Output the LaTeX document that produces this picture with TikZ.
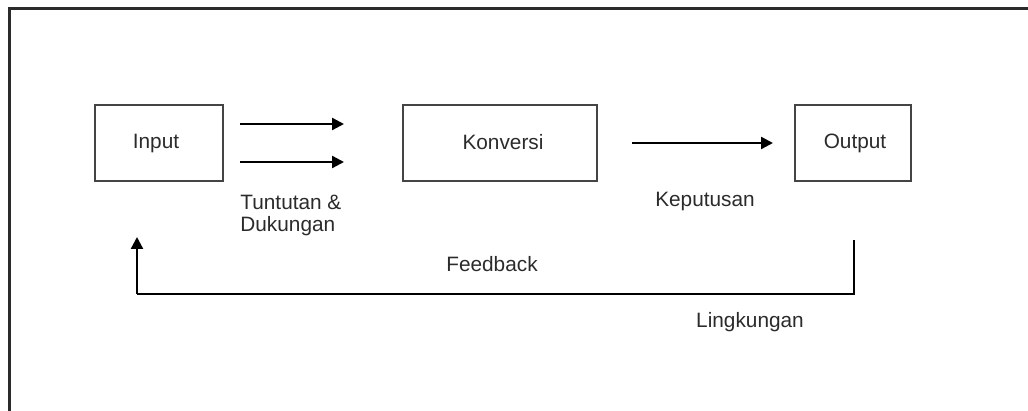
\documentclass[tikz,border=0pt]{standalone}
\usepackage{fontspec}
\setmainfont{Liberation Sans}
\usetikzlibrary{arrows.meta}
\definecolor{ink}{HTML}{2B2B2B}
\definecolor{boxline}{HTML}{444444}
\tikzset{
  blk/.style={draw=boxline, line width=1pt, minimum width=64pt, minimum height=38pt, inner sep=0pt},
  lbl/.style={text=ink, font=\fontsize{10.4pt}{12pt}\selectfont, inner sep=0pt},
  arr/.style={draw=black, line width=1.2pt, -{Triangle[length=6pt,width=6pt]}},
  fb/.style={draw=black, line width=1.2pt}
}
\begin{document}
\begin{tikzpicture}[x=0.5pt,y=-0.5pt]
\useasboundingbox (0,0) rectangle (1028,411);
% outer frame (left and top edges visible)
\draw[draw=ink, line width=1.5pt] (9.5,412) -- (9.5,8.7) -- (1029,8.7);
% boxes
\node[blk, minimum width=64pt, minimum height=38pt] (in) at (159,143) {};
\node[lbl] (intext) at (156,144) {Input};
\node[blk, minimum width=97pt, minimum height=38pt] (kon) at (500,143) {};
\node[lbl] (kontext) at (503,142) {Konversi};
\node[blk, minimum width=58pt, minimum height=38pt] (out) at (853,143) {};
\node[lbl] (outtext) at (855,143) {Output};
% input arrows
\coordinate (a1s) at (240,124);
\coordinate (a1e) at (344,124);
\coordinate (a2s) at (240,162);
\coordinate (a2e) at (344,162);
\draw[arr] (a1s) -- (a1e);
\draw[arr] (a2s) -- (a2e);
\node[lbl, anchor=west, align=left] (tt) at (240,202) {Tuntutan \&};
\node[lbl, anchor=west, align=left] (dk) at (240,226) {Dukungan};
% decision arrow
\coordinate (k1s) at (632,143);
\coordinate (k1e) at (773,143);
\draw[arr] (k1s) -- (k1e);
\node[lbl] (kep) at (705,202) {Keputusan};
% feedback loop
\coordinate (f1) at (854,240);
\coordinate (f2) at (854,294);
\coordinate (f3) at (137,294);
\coordinate (f4) at (137,237);
\draw[fb] (f1) -- (f2) -- (f3);
\draw[arr] (f3) -- (f4);
\node[lbl] (feed) at (492,264) {Feedback};
\node[lbl] (ling) at (750,322) {Lingkungan};
\end{tikzpicture}
\end{document}
